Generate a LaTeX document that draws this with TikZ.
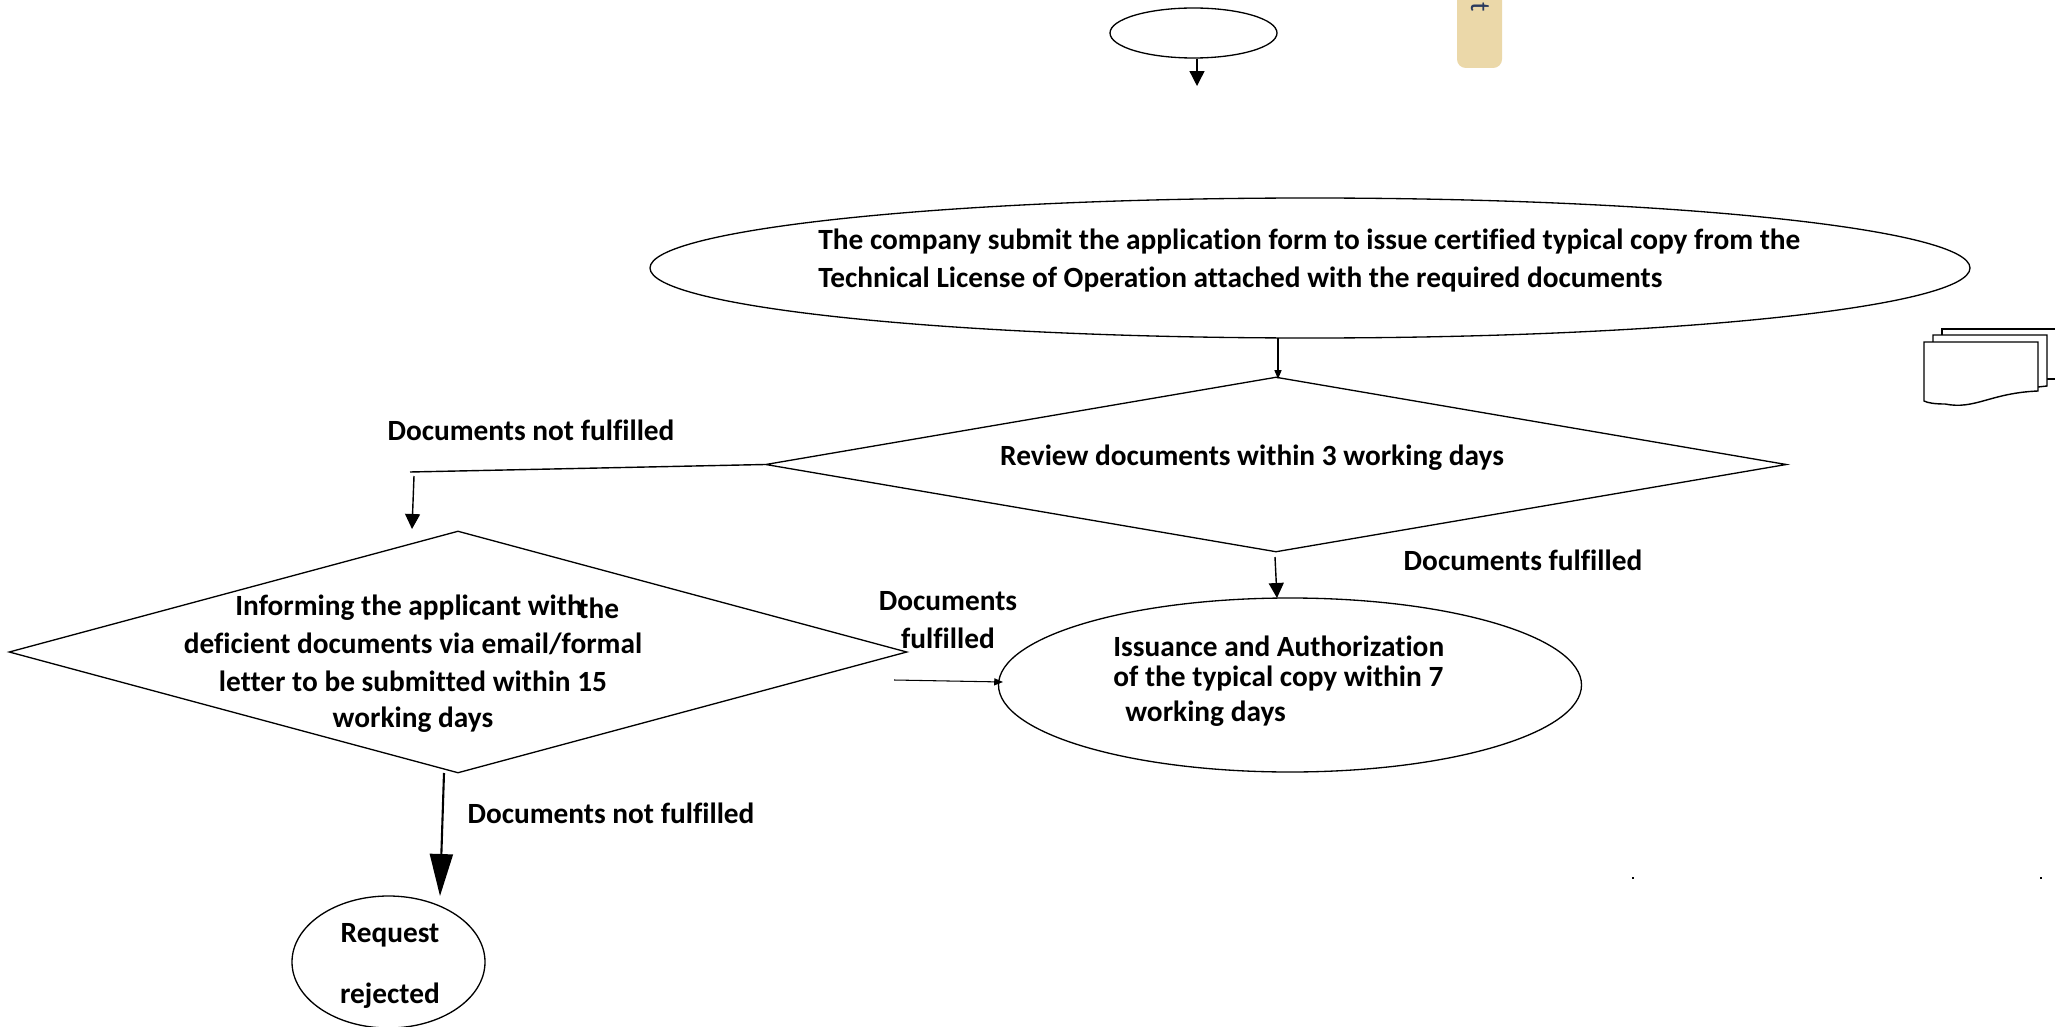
\documentclass[tikz,border=0pt]{standalone}
\usepackage{fontspec}
\setmainfont{Carlito}[Ligatures=NoCommon]
\usetikzlibrary{shapes.geometric,arrows.meta}
\definecolor{tabtan}{HTML}{EBD8A9}
\definecolor{tabink}{HTML}{2A3A5E}
\tikzset{
    oval/.style={draw, ellipse, inner sep=0pt, line width=0.75pt},
    decision/.style={draw, diamond, inner sep=0pt, line width=0.75pt},
    lbl/.style={font=\fontsize{16.7}{19}\selectfont\bfseries, inner sep=0pt},
    lblleft/.style={lbl, anchor=west},
    tip/.style={-{Triangle[length=15*0.569pt, width=15*0.569pt]}, thick},
    tinytip/.style={-{Triangle[length=5pt, width=4pt]}, line width=0.6pt},
    page/.style={draw, thick, fill=white}
}
\begin{document}
\begin{tikzpicture}[x=0.02cm, y=-0.02cm]
    \useasboundingbox (0, 0) rectangle (2055, 1027);

    \fill[tabtan, rounded corners=5pt] (1457, -30) rectangle (1502, 68);
    \node[rotate=-90, text=tabink, font=\fontsize{16}{18}\selectfont] (tabtext) at (1480, 7) {t};

    \node[oval, minimum width=167*0.02cm, minimum height=50*0.02cm] (start) at (1193.5, 33) {};
    \node[oval, minimum width=1320*0.02cm, minimum height=140*0.02cm] (submit) at (1310, 268) {};
    \node[decision, minimum width=1021*0.02cm, minimum height=175*0.02cm] (review) at (1276, 464.5) {};
    \node[decision, minimum width=898*0.02cm, minimum height=242*0.02cm] (inform) at (458, 652) {};
    \node[oval, minimum width=583*0.02cm, minimum height=174*0.02cm] (issue) at (1290, 685) {};
    \node[oval, minimum width=193*0.02cm, minimum height=132*0.02cm] (rejected) at (388.5, 962) {};

    \node[lblleft] (submita) at (818, 242) {The company submit the application form to issue certified typical copy from the};
    \node[lblleft] (submitb) at (818, 280) {Technical License of Operation attached with the required documents};
    \node[lbl] (reviewtext) at (1252, 458) {Review documents within 3 working days};
    \node[lbl] (notfulla) at (531, 430) {Documents not fulfilled};
    \node[lbl] (fulla) at (1523, 560) {Documents fulfilled};
    \node[lblleft] (informa) at (235, 608) {Informing the applicant with};
    \node[lblleft] (informb) at (578, 608) {the};
    \node[lbl] (informc) at (413, 644) {deficient documents via email/formal};
    \node[lbl] (informd) at (413, 681) {letter to be submitted within 15};
    \node[lbl] (informe) at (413, 720) {working days};
    \node[lbl] (fullb) at (948, 601) {Documents};
    \node[lbl] (fullc) at (948, 638) {fulfilled};
    \node[lblleft] (issuea) at (1113, 646) {Issuance and Authorization};
    \node[lblleft] (issueb) at (1113, 679) {of the typical copy within 7};
    \node[lblleft] (issuec) at (1125, 714) {working days};
    \node[lbl] (notfullb) at (611, 813) {Documents not fulfilled};
    \node[lbl] (rejecta) at (390, 935) {Request};
    \node[lbl] (rejectb) at (390, 996) {rejected};

    \coordinate (starttip) at (1197, 86);
    \coordinate (submitout) at (1278, 338);
    \coordinate (reviewin) at (1278, 379);
    \coordinate (elbow) at (410, 472);
    \coordinate (elbowa) at (414, 476);
    \coordinate (elbowb) at (412, 529);
    \coordinate (backa) at (894, 680);
    \coordinate (issuein) at (1003, 682);
    \coordinate (reviewa) at (1275, 557);
    \coordinate (reviewb) at (1277, 598);
    \coordinate (informa2) at (444, 773);
    \coordinate (informb2) at (440, 896);

    \draw[tip] (start.south -| starttip) -- (starttip);
    \draw[tinytip] (submitout) -- (reviewin);
    \draw[thick] (review.west) -- (elbow);
    \draw[tip] (elbowa) -- (elbowb);
    \draw[tip] (reviewa) -- (reviewb);
    \draw[tinytip] (backa) -- (issuein);
    \draw[very thick, -{Triangle[length=42*0.569pt, width=23*0.569pt]}] (informa2) -- (informb2);

    % stacked pages
    \draw[page] (2060, 329) -- (1942, 329) -- (1942, 345);
    \draw[page] (2047, 379) -- (2060, 379);
    \draw[page] (1933, 342) -- (1933, 335) -- (2047, 335) -- (2047, 386) -- (2038, 387);
    \draw[page] (1924, 342) -- (2038, 342) -- (2038, 391) .. controls (1990, 393) and (1975, 410) .. (1945, 404) .. controls (1935, 404) and (1928, 403) .. (1924, 401) -- cycle;

    \fill (1632, 877) rectangle (1634, 879);
    \fill (2040, 877) rectangle (2042, 879);
\end{tikzpicture}
\end{document}
